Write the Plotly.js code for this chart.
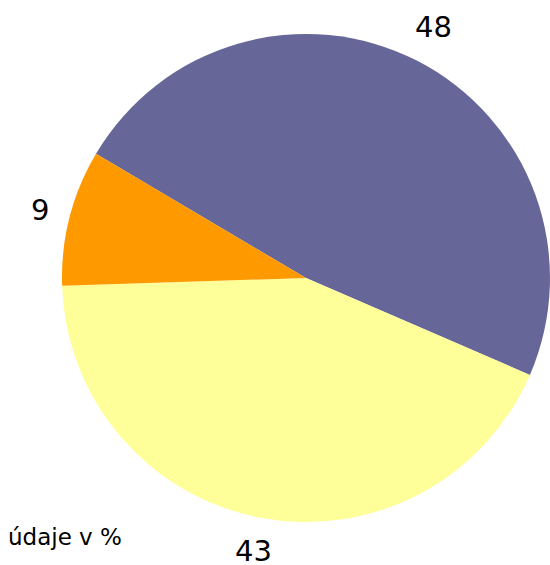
<!DOCTYPE html>
<html>
<head>
<meta charset="utf-8">
<script src="https://cdn.plot.ly/plotly-3.0.1.min.js"></script>
<style>html,body{margin:0;padding:0;background:#fff;}#chart{width:550px;height:565px;}</style>
</head>
<body>
<div id="chart"></div>
<script>
var categories = ["A", "B", "C"];
var values = [48, 43, 9];
var valueLabels = ["48", "43", "9"];
var colors = ["#666699", "#FFFF99", "#FF9900"];
var noteText = "údaje v %";

var W = 550, H = 565;
var domX = [0.1127, 1.0], domY = [0.0761, 0.9398];
var rotationDeg = -59.4;
var labelFont = {family: "DejaVu Sans, sans-serif", size: 29, color: "#000"};

var trace = {
  type: "pie",
  labels: categories,
  values: values,
  sort: false,
  direction: "clockwise",
  rotation: rotationDeg,
  marker: {colors: colors, line: {width: 0}},
  textinfo: "none",
  hoverinfo: "none",
  domain: {x: domX, y: domY},
  automargin: false
};

// label positions derived from the data (slice mid-angles)
var cx = (domX[0] + domX[1]) / 2 * W;
var cy = (1 - (domY[0] + domY[1]) / 2) * H;
var r = Math.min((domX[1] - domX[0]) * W, (domY[1] - domY[0]) * H) / 2;
var total = values.reduce(function (a, b) { return a + b; }, 0);
var annotations = [];
var acc = 0;
for (var i = 0; i < values.length; i++) {
  var mid = rotationDeg + (acc + values[i] / 2) / total * 360;
  acc += values[i];
  var th = mid * Math.PI / 180;
  var s = Math.sin(th), c = Math.cos(th);
  var w = valueLabels[i].length * 0.6 * labelFont.size;
  var h = 0.73 * labelFont.size;
  var R = r + 20 + Math.abs(s) * w / 2 + Math.abs(c) * h / 2;
  var px = cx + R * s, py = cy - R * c;
  annotations.push({
    text: valueLabels[i], xref: "paper", yref: "paper",
    x: px / W, y: 1 - py / H, xanchor: "center", yanchor: "middle",
    showarrow: false, font: labelFont
  });
}
annotations.push({
  text: noteText, xref: "paper", yref: "paper", x: 6 / W, y: 1 - 552 / H,
  xanchor: "left", yanchor: "bottom", showarrow: false,
  font: {family: "DejaVu Sans, sans-serif", size: 23, color: "#000"}
});

var layout = {
  width: W, height: H,
  margin: {l: 0, r: 0, t: 0, b: 0},
  showlegend: false,
  paper_bgcolor: "#fff",
  annotations: annotations
};

Plotly.newPlot("chart", [trace], layout, {staticPlot: true});
</script>
</body>
</html>
